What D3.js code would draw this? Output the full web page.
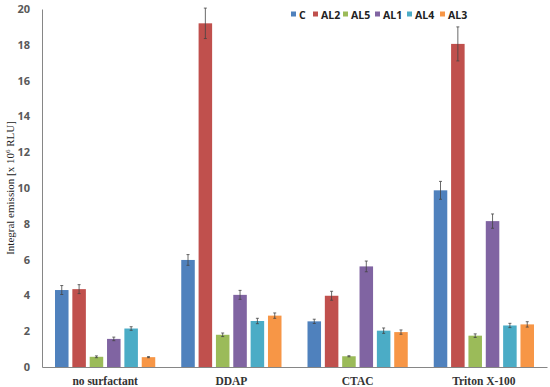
<!DOCTYPE html>
<html>
<head>
<meta charset="utf-8">
<script src="https://cdn.jsdelivr.net/npm/d3@7"></script>
<style>
  body { margin: 0; background: #fff; }
  svg { display: block; }
</style>
</head>
<body>
<div id="chart"></div>
<script>
const categories = ["no surfactant", "DDAP", "CTAC", "Triton X-100"];
const series = ["C", "AL2", "AL5", "AL1", "AL4", "AL3"];
const colors = ["#4f81bd", "#c0504d", "#9bbb59", "#8064a2", "#4bacc6", "#f79646"];

// values per series, in category order
const values = {
    C:   [4.30, 5.98, 2.55, 9.87],
    AL2: [4.35, 19.20, 3.98, 18.05],
    AL5: [0.57, 1.80, 0.60, 1.75],
    AL1: [1.57, 4.03, 5.62, 8.15],
    AL4: [2.15, 2.57, 2.03, 2.32],
    AL3: [0.55, 2.87, 1.95, 2.38]
};
const errors = {
    C:   [0.25, 0.30, 0.12, 0.50],
    AL2: [0.25, 0.85, 0.25, 0.95],
    AL5: [0.05, 0.10, 0.03, 0.10],
    AL1: [0.10, 0.25, 0.30, 0.40],
    AL4: [0.10, 0.15, 0.15, 0.12],
    AL3: [0.03, 0.15, 0.12, 0.15]
};
const yTicks = [0, 2, 4, 6, 8, 10, 12, 14, 16, 18, 20];

const W = 550, H = 387;
const margin = { top: 9, right: 3, bottom: 20, left: 42 };
const width = W - margin.left - margin.right,
    height = H - margin.top - margin.bottom;

const svg = d3.select("#chart").append("svg")
    .attr("width", W).attr("height", H);
const g = svg.append("g").attr("transform", `translate(${margin.left},${margin.top})`);

const x0 = d3.scaleBand().domain(categories).range([0, width]);
const x1 = d3.scaleBand().domain(series)
    .range([13, x0.bandwidth() - 13]).paddingInner(0.22);
const y = d3.scaleLinear().domain([0, 20]).range([height, 0]);

/* y axis */
const yAxis = g.append("g")
    .call(d3.axisLeft(y).tickValues(yTicks).tickSize(0).tickPadding(12));
yAxis.select(".domain").attr("stroke", "#868686");
yAxis.selectAll("text")
    .attr("font-family", "'Open Sans', sans-serif")
    .attr("font-weight", "bold")
    .attr("font-size", 11)
    .attr("fill", "#595959");

/* x axis */
const xAxis = g.append("g").attr("transform", `translate(0,${height})`)
    .call(d3.axisBottom(x0).tickSize(0).tickPadding(10));
xAxis.select(".domain").attr("stroke", "#868686");
xAxis.selectAll("text")
    .attr("font-family", "'Liberation Serif', serif")
    .attr("font-weight", "bold")
    .attr("font-size", 11.5)
    .attr("fill", "#333");

/* y title */
svg.append("text")
    .attr("transform", `translate(14,${margin.top + height / 2}) rotate(-90)`)
    .attr("text-anchor", "middle")
    .attr("font-family", "'Liberation Serif', serif")
    .attr("font-size", 11)
    .attr("fill", "#222")
    .html("Integral emission [x 10<tspan dy='-4' font-size='7'>6</tspan><tspan dy='4'> RLU]</tspan>");

/* bars */
const groups = g.selectAll("g.cat")
    .data(categories)
    .join("g")
    .attr("class", "cat")
    .attr("transform", d => `translate(${x0(d)},0)`);

groups.each(function(cat, ci) {
    const sel = d3.select(this);
    series.forEach((s, si) => {
        const v = values[s][ci], e = errors[s][ci];
        const bx = x1(s);
        sel.append("rect")
            .attr("x", bx).attr("y", y(v))
            .attr("width", x1.bandwidth())
            .attr("height", y(0) - y(v))
            .attr("fill", colors[si]);
        const cx = bx + x1.bandwidth() / 2;
        sel.append("line")
            .attr("x1", cx).attr("x2", cx)
            .attr("y1", y(v - e)).attr("y2", y(v + e))
            .attr("stroke", "#444").attr("stroke-width", 0.8);
        [v - e, v + e].forEach(t => {
            sel.append("line")
                .attr("x1", cx - 1.5).attr("x2", cx + 1.5)
                .attr("y1", y(t)).attr("y2", y(t))
                .attr("stroke", "#444").attr("stroke-width", 0.8);
        });
    });
});

/* legend */
const legendX = [291, 313, 343, 375, 407, 440];
const legend = svg.append("g");
series.forEach((s, i) => {
    legend.append("rect")
        .attr("x", legendX[i]).attr("y", 11.5)
        .attr("width", 5).attr("height", 5)
        .attr("fill", colors[i]);
    legend.append("text")
        .attr("x", legendX[i] + 8).attr("y", 18.5)
        .attr("font-family", "'Open Sans', sans-serif")
        .attr("font-weight", "bold")
        .attr("font-size", 10.5)
        .attr("fill", "#222")
        .text(s);
});
</script>
</body>
</html>
